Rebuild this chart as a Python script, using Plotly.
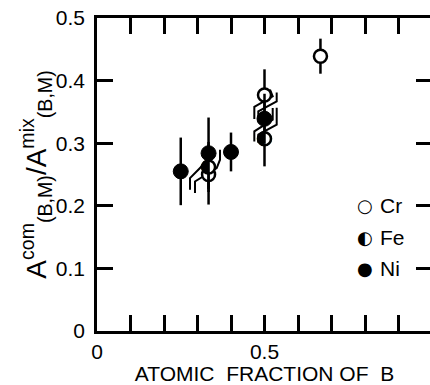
import plotly.graph_objects as go

# ---- data ----
cr_x = [0.333, 0.5, 0.667]
cr_y = [0.250, 0.377, 0.439]
cr_err = [0.048, 0.041, 0.028]

fe_x = [0.333, 0.5]
fe_y = [0.262, 0.307]
fe_err = [0.040, 0.044]

ni_x = [0.25, 0.333, 0.40, 0.5]
ni_y = [0.255, 0.284, 0.286, 0.339]
ni_err = [0.054, 0.057, 0.031, 0.040]

x_tickvals = [0, 0.1, 0.2, 0.3, 0.4, 0.5, 0.6, 0.7, 0.8, 0.9, 1.0]
x_ticktext = ["0", "", "", "", "", "0.5", "", "", "", "", ""]
y_tickvals = [0, 0.1, 0.2, 0.3, 0.4, 0.5]
y_ticktext = ["0", "0.1", "0.2", "0.3", "0.4", "0.5"]

legend_names = ["Cr", "Fe", "Ni"]
legend_glyphs = ["\u25CB", "\u25D0", "\u25CF"]
legend_y = [0.2, 0.15, 0.1]

# S-shaped ribbon decorations linking overlapping points
rib_a_x = [0.2776, 0.2776, 0.3075, 0.3224]
rib_a_y = [0.2256, 0.2443, 0.2603, 0.2709]
rib_b_x = [0.2925, 0.2925, 0.3573, 0.3672, 0.3672]
rib_b_y = [0.2203, 0.2389, 0.2603, 0.2736, 0.2896]
rib_c_x = [0.4696, 0.4696, 0.5245, 0.5164]
rib_c_y = [0.3387, 0.3579, 0.3749, 0.3856]
rib_d_x = [0.4815, 0.4815, 0.5364, 0.5364]
rib_d_y = [0.3333, 0.3509, 0.3669, 0.3808]
rib_e_x = [0.4696, 0.4696, 0.5245, 0.5245]
rib_e_y = [0.3029, 0.3189, 0.3376, 0.3563]
rib_f_x = [0.4815, 0.4815, 0.5364, 0.5364]
rib_f_y = [0.3008, 0.3136, 0.3296, 0.3568]

FONT = "Liberation Sans"
BLACK = "black"

fig = go.Figure()

for rx, ry in [(rib_a_x, rib_a_y), (rib_b_x, rib_b_y), (rib_c_x, rib_c_y),
               (rib_d_x, rib_d_y), (rib_e_x, rib_e_y), (rib_f_x, rib_f_y)]:
    fig.add_trace(go.Scatter(x=rx, y=ry, mode="lines",
                             line=dict(color=BLACK, width=2), hoverinfo="skip"))

err_style = dict(type="data", thickness=2.5, width=0, color=BLACK)

fig.add_trace(go.Scatter(
    x=cr_x, y=cr_y, mode="markers", name="Cr",
    error_y=dict(array=cr_err, **err_style),
    marker=dict(symbol="circle", size=13, color="white",
                line=dict(color=BLACK, width=2.5))))

fig.add_trace(go.Scatter(
    x=fe_x, y=fe_y, mode="markers+text", name="Fe",
    error_y=dict(array=fe_err, **err_style),
    marker=dict(symbol="circle", size=13, color="white",
                line=dict(color=BLACK, width=2.5)),
    text=["\u25D0"] * len(fe_x), textposition="middle center",
    textfont=dict(family="DejaVu Sans", size=19, color=BLACK)))

fig.add_trace(go.Scatter(
    x=ni_x, y=ni_y, mode="markers", name="Ni",
    error_y=dict(array=ni_err, **err_style),
    marker=dict(symbol="circle", size=15, color=BLACK,
                line=dict(color=BLACK, width=1))))

for name, glyph, ly in zip(legend_names, legend_glyphs, legend_y):
    fig.add_annotation(x=0.80, y=ly, xref="x", yref="y", text=glyph,
                       showarrow=False, xanchor="center", yanchor="middle",
                       font=dict(family="DejaVu Sans", size=18, color=BLACK))
    fig.add_annotation(x=0.838, y=ly, xref="x", yref="y", text=name,
                       showarrow=False, xanchor="left", yanchor="middle",
                       font=dict(family=FONT, size=21, color=BLACK))

axis_common = dict(ticks="inside", ticklen=16, tickwidth=2.5, tickcolor=BLACK,
                   showgrid=False, zeroline=False, automargin=False,
                   ticklabeloverflow="allow",
                   showline=True, linewidth=2.5, linecolor=BLACK, mirror="ticks")

# figure is 4 px wider than the window so the right frame line falls just
# off-page, as in the reference (only its inward ticks show)
fig.update_layout(
    width=434, height=385,
    margin=dict(l=97, r=2, t=18, b=54),
    paper_bgcolor="white", plot_bgcolor="white",
    showlegend=False,
    font=dict(family=FONT, size=21, color=BLACK),
    xaxis=dict(range=[0, 1.0], tickvals=x_tickvals, ticktext=x_ticktext,
               tickfont=dict(family=FONT, size=21, color=BLACK),
               ticklabelstandoff=0,
               title=dict(text="ATOMIC\u00a0\u00a0FRACTION\u00a0OF\u00a0\u00a0B",
                          font=dict(family=FONT, size=21, color=BLACK),
                          standoff=3),
               **axis_common),
    yaxis=dict(range=[0, 0.5], tickvals=y_tickvals, ticktext=y_ticktext,
               tickfont=dict(family=FONT, size=21, color=BLACK),
               ticklabelstandoff=5,
               title=dict(text="A<sup>com</sup><sub>(B,M)</sub>/A<sup>mix</sup><sub>(B,M)</sub>",
                          font=dict(family=FONT, size=28, color=BLACK),
                          standoff=0),
               **axis_common),
)

fig.write_html("out.html",
               config={"displayModeBar": False},
               post_script="document.body.style.margin='0px';"
                           "document.body.style.overflow='hidden';")
